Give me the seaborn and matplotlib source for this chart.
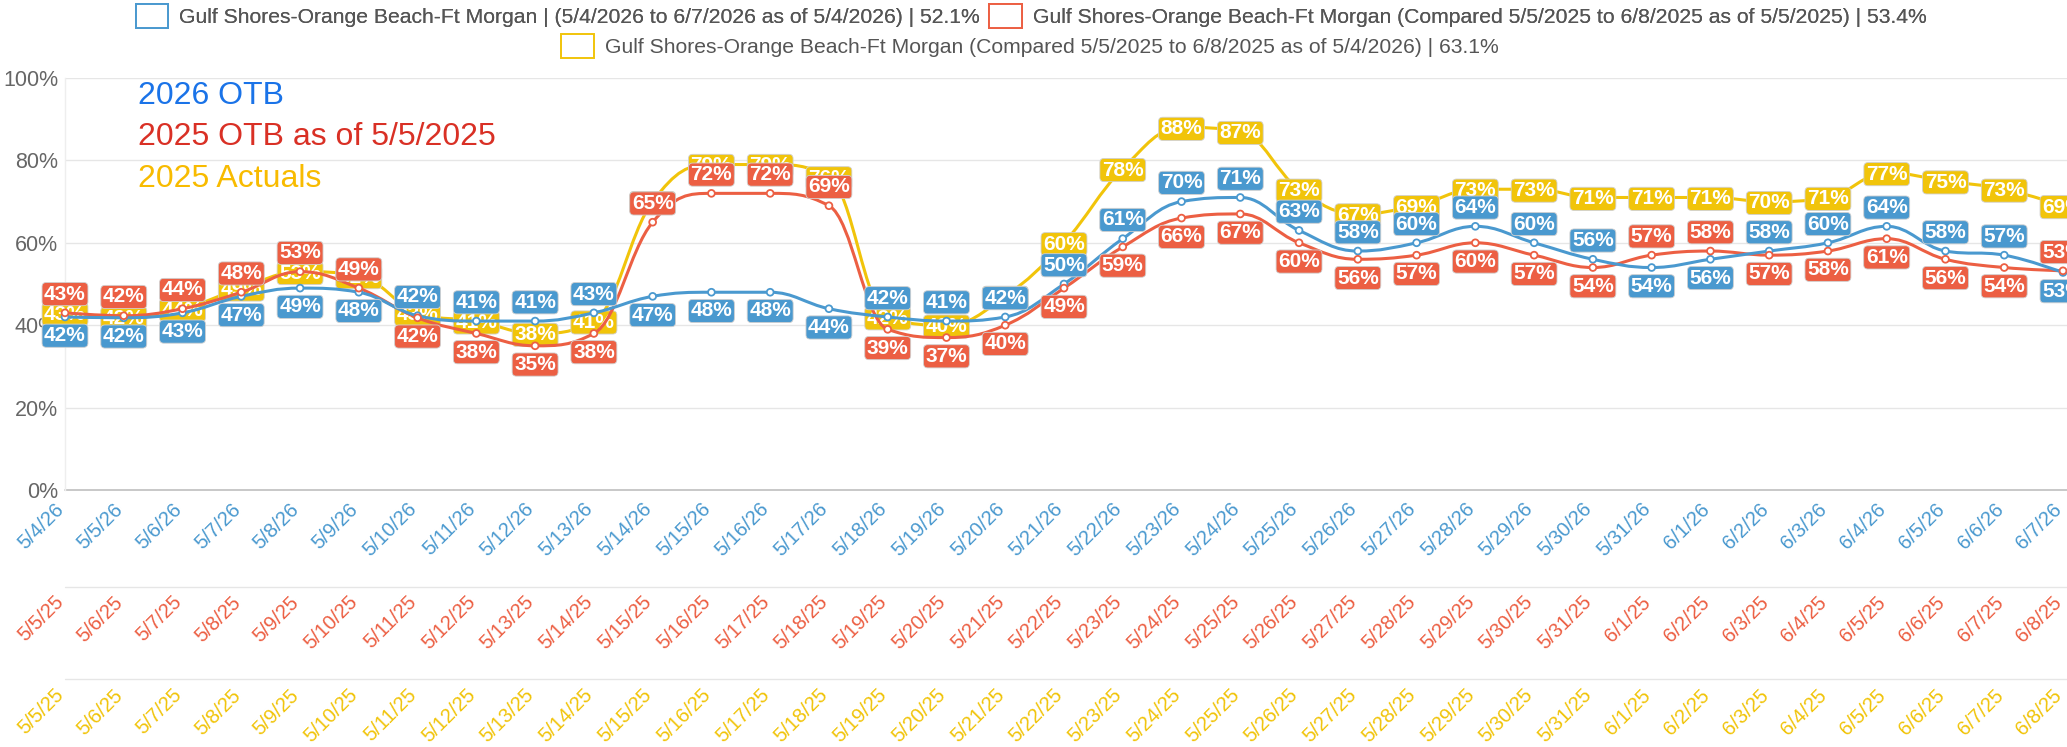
import numpy as np
import pandas as pd
import matplotlib
matplotlib.use("Agg")
import matplotlib.pyplot as plt
import seaborn as sns
from matplotlib.path import Path
from matplotlib.patches import PathPatch, Patch

# ---------------- data ----------------
dates_2026 = ["5/4/26", "5/5/26", "5/6/26", "5/7/26", "5/8/26", "5/9/26", "5/10/26",
              "5/11/26", "5/12/26", "5/13/26", "5/14/26", "5/15/26", "5/16/26", "5/17/26",
              "5/18/26", "5/19/26", "5/20/26", "5/21/26", "5/22/26", "5/23/26", "5/24/26",
              "5/25/26", "5/26/26", "5/27/26", "5/28/26", "5/29/26", "5/30/26", "5/31/26",
              "6/1/26", "6/2/26", "6/3/26", "6/4/26", "6/5/26", "6/6/26", "6/7/26"]
dates_2025 = ["5/5/25", "5/6/25", "5/7/25", "5/8/25", "5/9/25", "5/10/25", "5/11/25",
              "5/12/25", "5/13/25", "5/14/25", "5/15/25", "5/16/25", "5/17/25", "5/18/25",
              "5/19/25", "5/20/25", "5/21/25", "5/22/25", "5/23/25", "5/24/25", "5/25/25",
              "5/26/25", "5/27/25", "5/28/25", "5/29/25", "5/30/25", "5/31/25", "6/1/25",
              "6/2/25", "6/3/25", "6/4/25", "6/5/25", "6/6/25", "6/7/25", "6/8/25"]

otb_2026 = [42, 41.8, 43, 47, 49, 48, 42.3, 41, 41, 43, 47, 48, 48, 44, 42, 41, 42, 50,
            61, 70, 71, 63, 58, 60, 64, 60, 56, 54, 56, 58, 60, 64, 58, 57, 52.8]
otb_2025 = [43, 42.3, 44, 48, 53, 49, 41.8, 38, 35, 38, 65, 72, 72, 69, 39, 37, 40, 49,
            59, 66, 67, 60, 56, 57, 60, 57, 54, 57, 58, 57, 58, 61, 56, 54, 53.2]
act_2025 = [43, 42, 44, 49, 53, 52, 43, 41, 38, 41, 70, 79, 79, 76, 42, 40, 47, 60,
            78, 88, 87, 73, 67, 69, 73, 73, 71, 71, 71, 70, 71, 77, 75, 73, 69]

legend_labels = [
    "Gulf Shores-Orange Beach-Ft Morgan | (5/4/2026 to 6/7/2026 as of 5/4/2026) | 52.1%",
    "Gulf Shores-Orange Beach-Ft Morgan (Compared 5/5/2025 to 6/8/2025 as of 5/5/2025) | 53.4%",
    "Gulf Shores-Orange Beach-Ft Morgan (Compared 5/5/2025 to 6/8/2025 as of 5/4/2026) | 63.1%",
]
note_labels = ["2026 OTB", "2025 OTB as of 5/5/2025", "2025 Actuals"]
y_ticks = [0, 20, 40, 60, 80, 100]

# ---------------- style ----------------
BLUE, RED, YEL = "#4a99cf", "#ec5f43", "#f1c40a"
NOTE_COLORS = ["#1a73e8", "#d93025", "#f8bb00"]

sns.set_theme(style="white")
plt.rcParams["font.family"] = ["Liberation Sans", "DejaVu Sans"]

W, H = 2067, 747
fig = plt.figure(figsize=(W / 100, H / 100), dpi=100)
ax_left, ax_right = 65, 2067
y0_px, y100_px = 490, 78
ax = fig.add_axes([ax_left / W, 1 - y0_px / H, (ax_right - ax_left) / W, (y0_px - y100_px) / H])
ax_h = y0_px - y100_px

n = len(dates_2026)
x = np.arange(n)
ax.set_xlim(0, 34 * (ax_right - ax_left) / (2063 - ax_left))
ax.set_ylim(0, 100)

df = pd.DataFrame({"idx": np.concatenate([x, x, x]),
                   "val": np.concatenate([otb_2026, otb_2025, act_2025]),
                   "series": ["blue"] * n + ["red"] * n + ["yellow"] * n})

# grid
ax.set_yticks(y_ticks)
ax.set_yticklabels([f"{v}%" for v in y_ticks], fontsize=15.5, color="#666666")
ax.tick_params(axis="y", length=0, pad=5)
ax.set_xticks([])
for v in y_ticks[1:]:
    ax.axhline(v, color="#e6e6e6", lw=1.0, zorder=0)
for s in ["top", "right", "bottom"]:
    ax.spines[s].set_visible(False)
ax.spines["left"].set_color("#eeeeee")
ax.spines["left"].set_linewidth(1.0)
ax.axhline(0, color="#c4c4c4", lw=1.3, zorder=1, clip_on=False)


def spline_path(xs, ys):
    sm, den = 1.5, 2.5
    m = len(xs)
    left, right = [None] * m, [None] * m
    for i in range(m):
        px, py = xs[i], ys[i]
        if i == 0 or i == m - 1:
            left[i] = right[i] = (px, py)
            continue
        lx, ly, nx, ny = xs[i - 1], ys[i - 1], xs[i + 1], ys[i + 1]
        lcx, lcy = (sm * px + lx) / den, (sm * py + ly) / den
        rcx, rcy = (sm * px + nx) / den, (sm * py + ny) / den
        if rcx != lcx:
            corr = ((rcy - lcy) * (rcx - px)) / (rcx - lcx) + py - rcy
            lcy += corr
            rcy += corr
        if lcy > ly and lcy > py:
            lcy = max(ly, py); rcy = 2 * py - lcy
        elif lcy < ly and lcy < py:
            lcy = min(ly, py); rcy = 2 * py - lcy
        if rcy > ny and rcy > py:
            rcy = max(ny, py); lcy = 2 * py - rcy
        elif rcy < ny and rcy < py:
            rcy = min(ny, py); lcy = 2 * py - rcy
        left[i], right[i] = (lcx, lcy), (rcx, rcy)
    verts, codes = [(xs[0], ys[0])], [Path.MOVETO]
    for i in range(1, m):
        verts += [right[i - 1], left[i], (xs[i], ys[i])]
        codes += [Path.CURVE4] * 3
    return Path(verts, codes)


series = [("yellow", act_2025, YEL, 2), ("red", otb_2025, RED, 4), ("blue", otb_2026, BLUE, 5)]
for name, vals, col, z in series:
    ax.add_patch(PathPatch(spline_path(list(x), list(vals)), fill=False, edgecolor=col,
                           lw=2.2, zorder=z, capstyle="round", joinstyle="round"))

sns.scatterplot(data=df[df.series != "yellow"], x="idx", y="val", hue="series",
                palette={"blue": BLUE, "red": RED}, marker="o", s=24,
                facecolor="white", linewidth=1.3, legend=False, ax=ax, zorder=6)
coll = ax.collections[-1]
edge = [BLUE if s == "blue" else RED for s in df[df.series != "yellow"].series]
coll.set_edgecolors(edge)
coll.set_facecolors("white")
coll.set_clip_on(False)
ax.set_xlabel("")
ax.set_ylabel("")

# data labels
LBL_FS = 15.0
OFF = 13.5
blue_arr, red_arr = np.array(otb_2026), np.array(otb_2025)
blue_up = blue_arr > red_arr


def label(xi, v, col, dy, z):
    ax.annotate(f"{int(round(v))}%", (xi, v), xytext=(0, dy), textcoords="offset points",
                ha="center", va="center", fontsize=LBL_FS, fontweight="bold", color="white",
                zorder=z, annotation_clip=False,
                bbox=dict(boxstyle="round,pad=0.1,rounding_size=0.2", fc=col,
                          ec="#d0d0d0", lw=0.6))


for i in range(n):
    label(x[i], act_2025[i], YEL, -1.0, 3)
for i in range(n):
    label(x[i], otb_2025[i], RED, -OFF if blue_up[i] else OFF, 7)
for i in range(n):
    label(x[i], otb_2026[i], BLUE, OFF if blue_up[i] else -OFF, 8)

# x label rows
xt = ax.get_xaxis_transform()
rows = [(dates_2026, BLUE, 510), (dates_2025, RED, 603), (dates_2025, YEL, 696)]
for labels, col, ypx in rows:
    yax = -(ypx - y0_px) / ax_h
    for i, t in enumerate(labels):
        ax.text(x[i], yax, t, transform=xt, rotation=45, rotation_mode="anchor",
                ha="right", va="baseline", fontsize=14.5, color=col, clip_on=False)
for ypx in (587, 679):
    yax = -(ypx - y0_px) / ax_h
    ax.plot([0, 1], [yax, yax], transform=ax.transAxes, color="#e6e6e6", lw=1.0, clip_on=False)

# notes
for lbl, col, ypx in zip(note_labels, NOTE_COLORS, [96, 137, 179]):
    fig.text(138 / W, 1 - ypx / H, lbl, color=col, fontsize=23, va="center", ha="left")

# legend
handles = [Patch(facecolor="white", edgecolor=c, linewidth=1.4) for c in (BLUE, RED, YEL)]
leg_kw = dict(frameon=False, fontsize=15.2, labelcolor="#555555", handlelength=1.55,
              handleheight=1.4, handletextpad=0.5, columnspacing=0.45, borderpad=0,
              borderaxespad=0)
leg1 = fig.legend(handles[:2], legend_labels[:2], ncol=2, loc="center",
                  bbox_to_anchor=(1031 / W, 1 - 16 / H), **leg_kw)
fig.add_artist(leg1)
fig.legend(handles[2:], legend_labels[2:], ncol=1, loc="center",
           bbox_to_anchor=(1030 / W, 1 - 46 / H), **leg_kw)

fig.savefig("out.png", dpi=100)
